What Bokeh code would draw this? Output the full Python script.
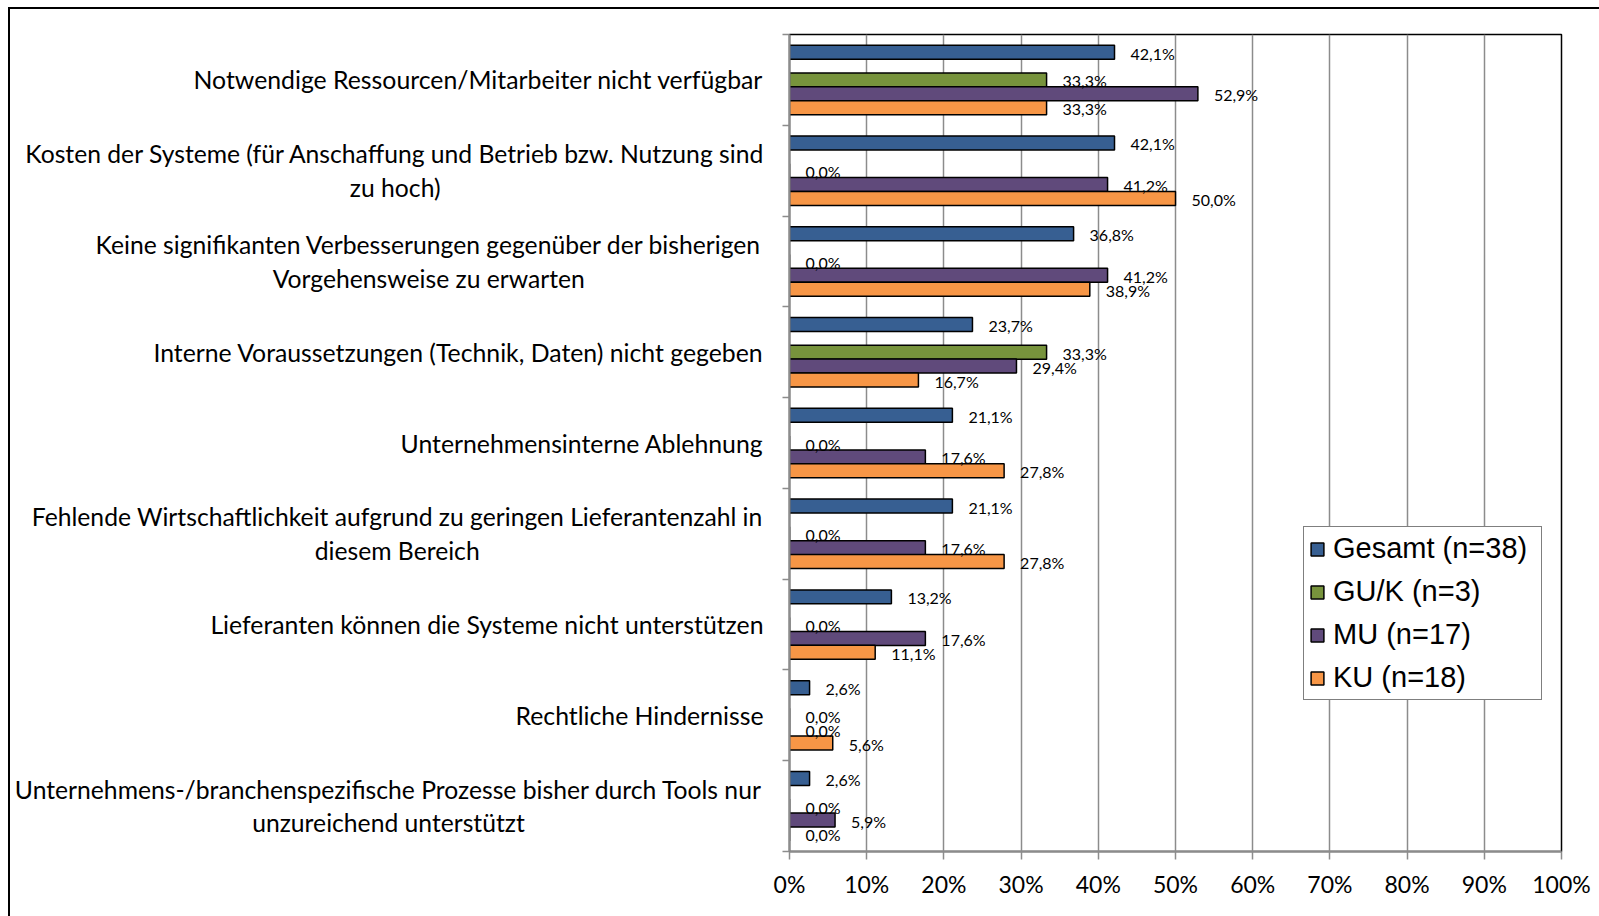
from bokeh.plotting import figure
from bokeh.layouts import row
from bokeh.models import (Range1d, FixedTicker, PrintfTickFormatter, LabelSet,
                          ColumnDataSource, Legend, LegendItem)
from bokeh.core.properties import value
from bokeh.embed import file_html
from bokeh.resources import INLINE

categories = [
    ["Notwendige Ressourcen/Mitarbeiter nicht verfügbar"],
    ["Kosten der Systeme (für Anschaffung und Betrieb bzw. Nutzung sind", "zu hoch)"],
    ["Keine signifikanten Verbesserungen gegenüber der bisherigen", "Vorgehensweise zu erwarten"],
    ["Interne Voraussetzungen (Technik, Daten) nicht gegeben"],
    ["Unternehmensinterne Ablehnung"],
    ["Fehlende Wirtschaftlichkeit aufgrund zu geringen Lieferantenzahl in", "diesem Bereich"],
    ["Lieferanten können die Systeme nicht unterstützen"],
    ["Rechtliche Hindernisse"],
    ["Unternehmens-/branchenspezifische Prozesse bisher durch Tools nur", "unzureichend unterstützt"],
]
series_names = ["Gesamt (n=38)", "GU/K (n=3)", "MU (n=17)", "KU (n=18)"]
gesamt = [42.1, 42.1, 36.8, 23.7, 21.1, 21.1, 13.2, 2.6, 2.6]
guk = [33.3, 0.0, 0.0, 33.3, 0.0, 0.0, 0.0, 0.0, 0.0]
mu = [52.9, 41.2, 41.2, 29.4, 17.6, 17.6, 17.6, 0.0, 5.9]
ku = [33.3, 50.0, 38.9, 16.7, 27.8, 27.8, 11.1, 5.6, 0.0]
x_ticks = [0, 10, 20, 30, 40, 50, 60, 70, 80, 90, 100]

colors = ["#375F92", "#77933C", "#604A7B", "#F79646"]
offsets = [-0.305, 0.0, 0.153, 0.306]
bar_h = 0.154

H = 907
LW = 759            # width of label panel
MW = 1589 - LW      # width of chart panel
BL, BR, BT, BB = 20, 38, 25, 65
n = len(categories)
yr = Range1d(n, 0)

# ---------- label panel (left) ----------
label_right = 753
two_line_centers = {1: 384.7, 2: 418.3, 5: 386.7, 8: 378.0}
line_gap = 0.185

lf = figure(width=LW, height=H, output_backend="svg", toolbar_location=None,
            x_range=Range1d(0, LW), y_range=yr, x_axis_type=None, y_axis_type=None,
            min_border_left=0, min_border_right=0, min_border_top=BT, min_border_bottom=BB,
            background_fill_color="white", border_fill_color="white",
            outline_line_color=None)
lf.xgrid.visible = False
lf.ygrid.visible = False

r_x, r_y, r_t = [], [], []
c_x, c_y, c_t = [], [], []
for i, lines in enumerate(categories):
    if len(lines) == 1:
        r_x.append(label_right); r_y.append(i + 0.5); r_t.append(lines[0])
    else:
        for k, line in enumerate(lines):
            c_x.append(two_line_centers[i])
            c_y.append(i + 0.5 + (-line_gap if k == 0 else line_gap))
            c_t.append(line)
lf.text(x=r_x, y=r_y, text=r_t, text_align="right", text_baseline="middle",
        text_font=value("Lato"), text_font_size=value("24.8px"), text_color="black")
lf.text(x=c_x, y=c_y, text=c_t, text_align="center", text_baseline="middle",
        text_font=value("Lato"), text_font_size=value("24.7px"), text_color="black")

# ---------- chart panel ----------
p = figure(width=MW, height=H, output_backend="svg", toolbar_location=None,
           x_range=Range1d(0, 100), y_range=yr,
           min_border_left=BL, min_border_right=BR, min_border_top=BT, min_border_bottom=BB,
           background_fill_color="white", border_fill_color="white",
           outline_line_color="black", outline_line_width=1.5)

p.xgrid.ticker = FixedTicker(ticks=x_ticks)
p.xgrid.grid_line_color = "#8C8C8C"
p.xgrid.grid_line_width = 1.5
p.ygrid.grid_line_color = None

p.xaxis.ticker = FixedTicker(ticks=x_ticks)
p.xaxis.formatter = PrintfTickFormatter(format="%d%%")
p.xaxis.major_label_text_font = "Lato"
p.xaxis.major_label_text_font_size = "23px"
p.xaxis.major_label_text_color = "black"
p.xaxis.major_label_standoff = 10
p.xaxis.axis_line_color = "#8C8C8C"
p.xaxis.axis_line_width = 2
p.xaxis.major_tick_line_color = "#8C8C8C"
p.xaxis.major_tick_line_width = 1.5
p.xaxis.major_tick_out = 8
p.xaxis.major_tick_in = 0
p.xaxis.minor_tick_line_color = None

p.yaxis.ticker = FixedTicker(ticks=list(range(n + 1)))
p.yaxis.major_label_text_color = None
p.yaxis.major_label_text_font_size = "1px"
p.yaxis.axis_line_color = "#8C8C8C"
p.yaxis.axis_line_width = 2
p.yaxis.major_tick_line_color = "#8C8C8C"
p.yaxis.major_tick_line_width = 1.5
p.yaxis.major_tick_out = 7
p.yaxis.major_tick_in = 0
p.yaxis.minor_tick_line_color = None

items = []
for s, (name, vals) in enumerate(zip(series_names, [gesamt, guk, mu, ku])):
    ys = [i + 0.5 + offsets[s] for i in range(n)]
    labels = [f"{v:.1f}%".replace(".", ",") for v in vals]
    src = ColumnDataSource(dict(y=ys, right=vals, text=labels))
    r = p.hbar(y="y", right="right", left=0, height=bar_h, source=src,
               fill_color=colors[s], line_color="black", line_width=1.5)
    items.append(LegendItem(label=name, renderers=[r]))
    p.add_layout(LabelSet(x="right", y="y", text="text", source=src, x_offset=16, y_offset=-1,
                          text_font=value("Lato"), text_font_size=value("16px"),
                          text_color="black", text_baseline="middle", text_align="left"))

legend = Legend(items=items, location=(514, 151), label_text_font="Liberation Sans",
                label_text_font_size="29px", label_text_color="black",
                glyph_width=16, glyph_height=16, label_height=30, label_width=203,
                spacing=10, padding=5, margin=0, label_standoff=8,
                border_line_color="black", border_line_width=1.5,
                background_fill_color="white", background_fill_alpha=1)
p.add_layout(legend)

layout = row(lf, p, spacing=0,
             styles={"margin-left": "8px", "margin-top": "7px",
                     "border-left": "2px solid #000", "border-top": "2px solid #000"})

open("out.html", "w").write(file_html(layout, INLINE))
